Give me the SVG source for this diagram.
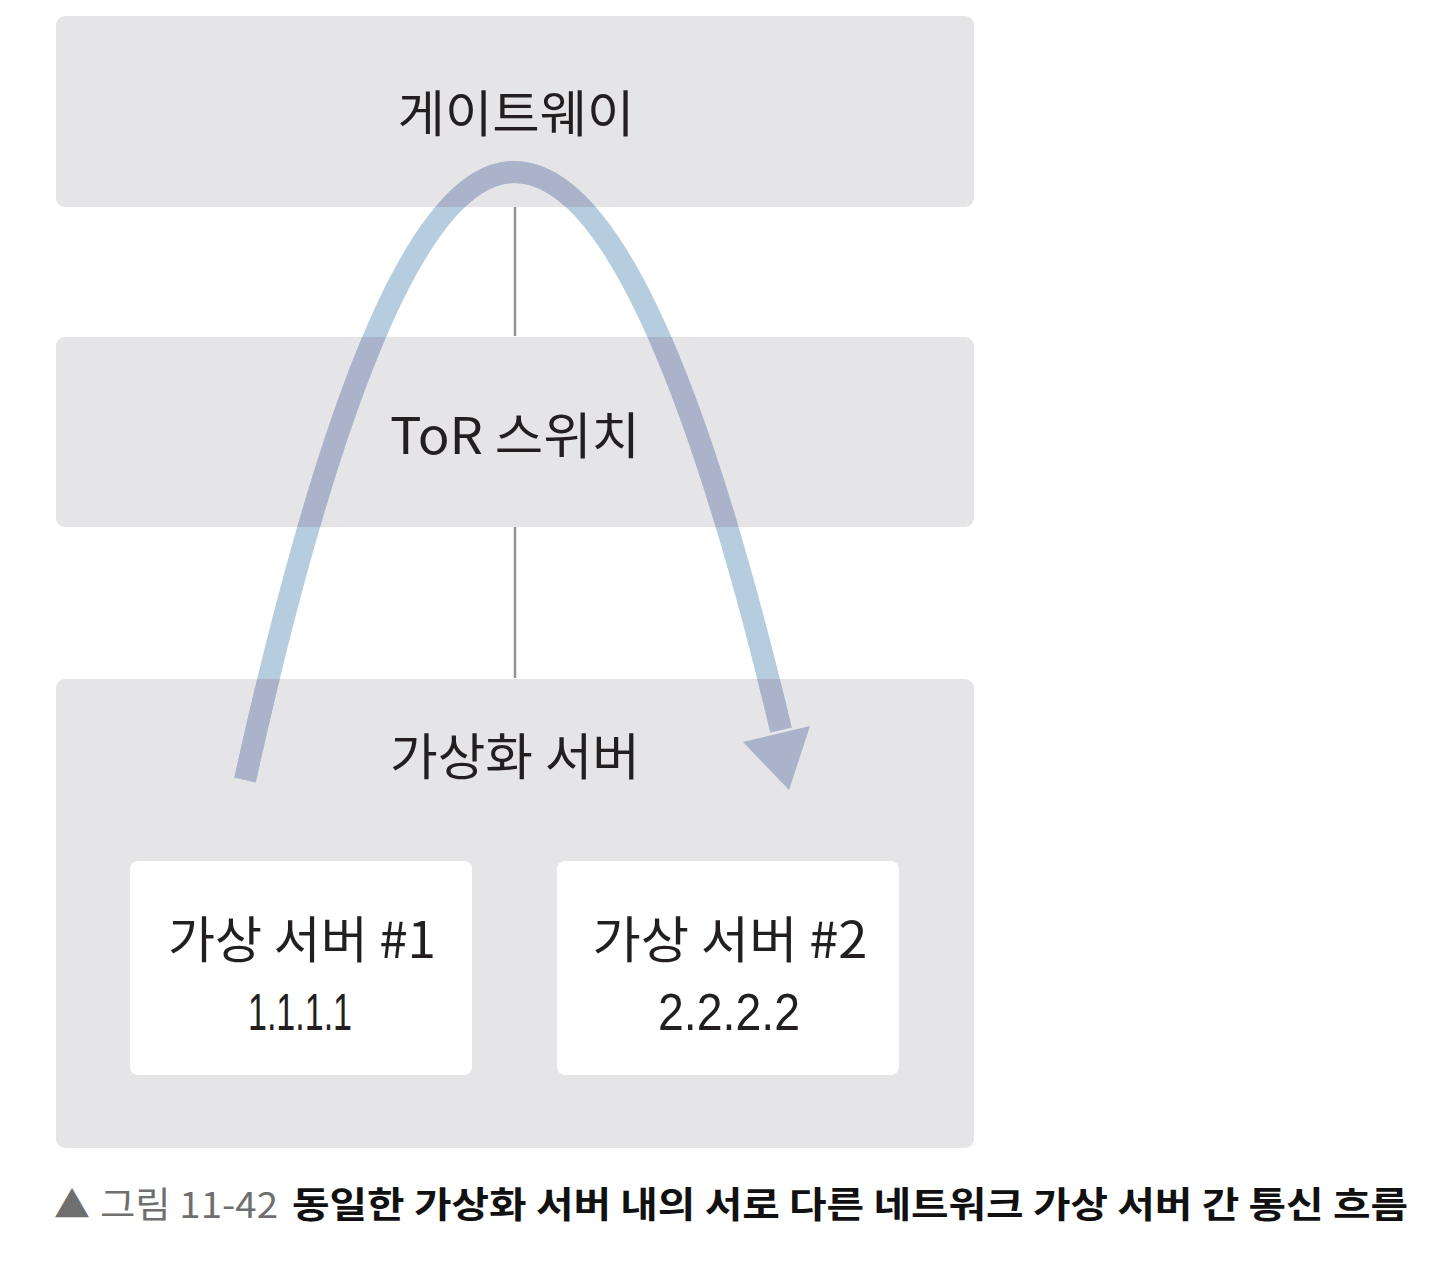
<svg xmlns="http://www.w3.org/2000/svg" xmlns:xlink="http://www.w3.org/1999/xlink" width="1430" height="1262" viewBox="0 0 1430 1262">
<style>
.box{fill:#e5e5e8}
.inner{fill:#ffffff}
.lbl{font-family:"Noto Sans CJK KR","Noto Sans",sans-serif;font-size:50px;fill:#231f20;text-anchor:middle}
.num{font-family:"Liberation Sans","Noto Sans",sans-serif;font-size:52px;fill:#231f20;text-anchor:middle}
.link{stroke:#939393;stroke-width:2.5;fill:none}
.cap{font-family:"Noto Sans CJK KR","Noto Sans",sans-serif;font-size:36px}
</style>
<defs>
<path id="arc" d="M 245 780 Q 380 172 514 172 Q 648 172 781 730"/>
<clipPath id="boxes">
<rect x="56" y="16" width="918" height="191"/>
<rect x="56" y="337" width="918" height="190"/>
<rect x="56" y="679" width="918" height="469"/>
</clipPath>
</defs>
<rect width="1430" height="1262" fill="#ffffff"/>
<g id="gateway">
<rect class="box" x="56" y="16" width="918" height="191" rx="9"/>
<text class="lbl" x="516" y="132" textLength="237" lengthAdjust="spacingAndGlyphs">게이트웨이</text>
</g>
<g id="tor">
<rect class="box" x="56" y="337" width="918" height="190" rx="9"/>
<text class="lbl" x="515" y="454" textLength="250" lengthAdjust="spacingAndGlyphs">ToR 스위치</text>
</g>
<g id="host">
<rect class="box" x="56" y="679" width="918" height="469" rx="9"/>
<text class="lbl" x="515" y="775" textLength="250" lengthAdjust="spacingAndGlyphs">가상화 서버</text>
</g>
<g id="vm1">
<rect class="inner" x="130" y="861" width="342" height="214" rx="8"/>
<text class="lbl" x="302" y="958" textLength="268" lengthAdjust="spacingAndGlyphs">가상 서버 #1</text>
<text class="num" x="300" y="1030" textLength="104" lengthAdjust="spacingAndGlyphs">1.1.1.1</text>
</g>
<g id="vm2">
<rect class="inner" x="557" y="861" width="342" height="214" rx="8"/>
<text class="lbl" x="730" y="958" textLength="275" lengthAdjust="spacingAndGlyphs">가상 서버 #2</text>
<text class="num" x="729" y="1030" textLength="142" lengthAdjust="spacingAndGlyphs">2.2.2.2</text>
</g>
<g id="connectors">
<line class="link" x1="515" y1="207" x2="515" y2="336"/>
<line class="link" x1="515" y1="527" x2="515" y2="678"/>
<g id="flow">
<use xlink:href="#arc" stroke="#b6cddf" stroke-width="22" fill="none"/>
<use xlink:href="#arc" stroke="#aab3c9" stroke-width="22" fill="none" clip-path="url(#boxes)"/>
<polygon points="743,742 810,726 789,790" fill="#aab3c9"/>
</g>
</g>
<g id="caption">
<text class="cap" x="54" y="1218" fill="#6f6f6f" font-size="32">▲</text>
<text class="cap" x="100" y="1218" fill="#6f6f6f" textLength="178" lengthAdjust="spacingAndGlyphs">그림 11-42</text>
<text class="cap" x="292" y="1218" fill="#111111" font-weight="bold" textLength="1116" lengthAdjust="spacingAndGlyphs">동일한 가상화 서버 내의 서로 다른 네트워크 가상 서버 간 통신 흐름</text>
</g>
</svg>
